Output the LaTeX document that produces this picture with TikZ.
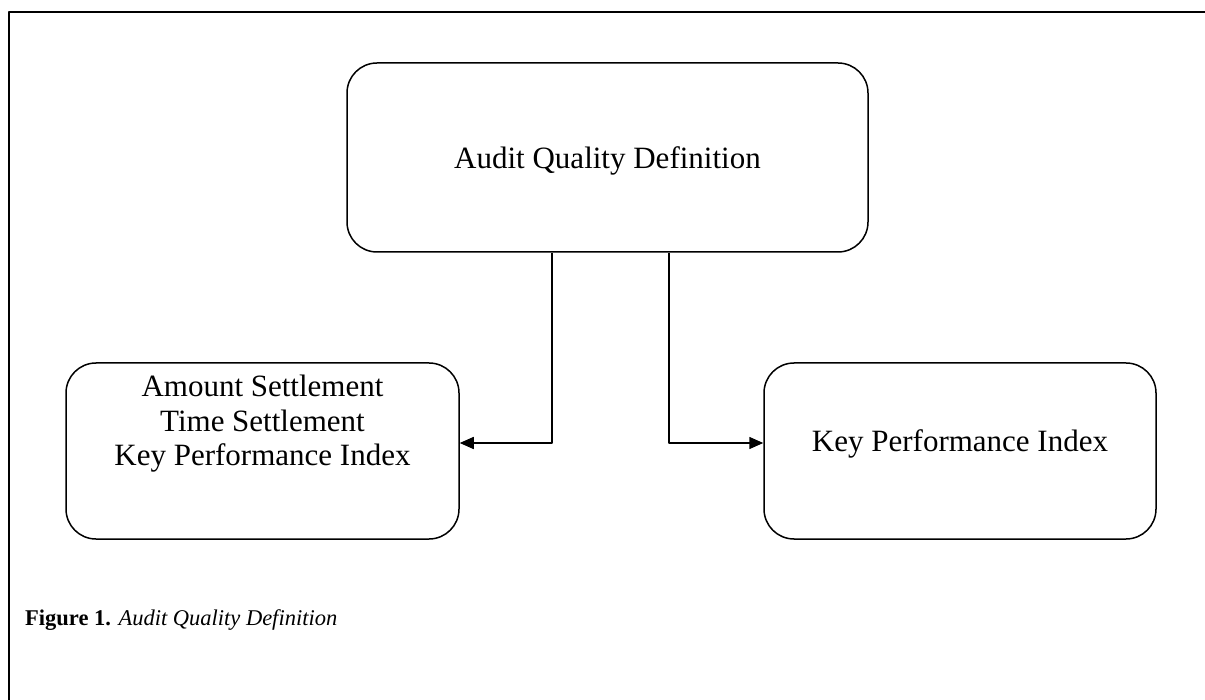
\documentclass[tikz,border=0pt]{standalone}
\usepackage{fontspec}
\setmainfont{Liberation Serif}
\usetikzlibrary{positioning,arrows.meta}
\begin{document}
\begin{tikzpicture}[x=1pt, y=-1pt, >={Triangle[length=14pt,width=12pt]}, line join=round,
	box/.style={draw, line width=1.5pt, rounded corners=30pt, inner sep=0pt},
	lbl/.style={align=center, inner sep=0pt, font=\fontsize{31}{34.5}\selectfont}]
	\useasboundingbox (0,0) rectangle (1205,700);
	% frame
	\draw[line width=2.4pt] (9,700) -- (9,12) -- (1205,12);
	% boxes
	\node[box, minimum width=521pt, minimum height=189pt] (def) at (607.5,157.5) {};
	\node[box, minimum width=393pt, minimum height=176pt] (amt) at (262.5,451) {};
	\node[box, minimum width=392pt, minimum height=176pt] (kpi) at (960,451) {};
	% texts
	\node[lbl] (deftxt) at ([yshift=-3pt]def.center) {Audit Quality Definition};
	\node[lbl] (amttxt) at ([yshift=27pt]amt.center) {Amount Settlement\\Time Settlement\\Key Performance Index};
	\node[lbl] (kpitxt) at ([yshift=7pt]kpi.center) {Key Performance Index};
	% connectors
	\draw[->, line width=1.5pt] ([xshift=-55.5pt]def.south) |- ([yshift=8pt]amt.east);
	\draw[->, line width=1.5pt] ([xshift=61.5pt]def.south) |- ([yshift=8pt]kpi.west);
	% caption
	\node[anchor=base west, inner sep=0pt, font=\fontsize{22.5}{27}\selectfont] (cap) at (25,625)
		{\textbf{Figure 1.} \textit{Audit Quality Definition}};
\end{tikzpicture}
\end{document}
